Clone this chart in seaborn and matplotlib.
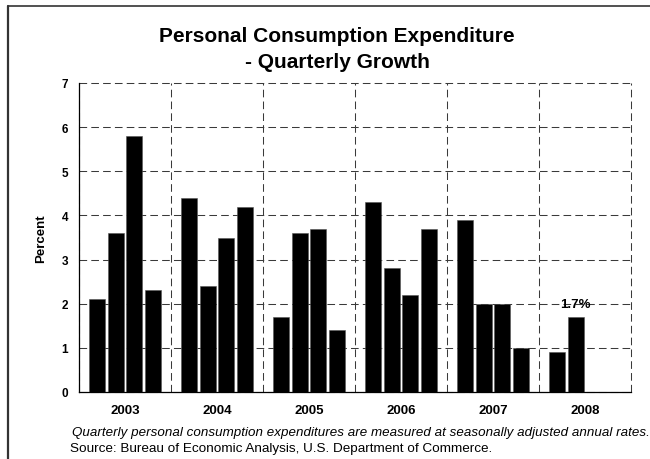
import pandas as pd
import matplotlib
matplotlib.use("Agg")
import matplotlib.pyplot as plt
from matplotlib.lines import Line2D
import seaborn as sns

# chart data
years = ['2003', '2004', '2005', '2006', '2007', '2008']
quarters = ['Q1', 'Q2', 'Q3', 'Q4']
growth_2003 = [2.1, 3.6, 5.8, 2.3]
growth_2004 = [4.4, 2.4, 3.5, 4.2]
growth_2005 = [1.7, 3.6, 3.7, 1.4]
growth_2006 = [4.3, 2.8, 2.2, 3.7]
growth_2007 = [3.9, 2.0, 2.0, 1.0]
growth_2008 = [0.9, 1.7]
y_ticks = [0, 1, 2, 3, 4, 5, 6, 7]
last_label = '1.7%'


def build_frame():
    rows = []
    for year, vals in zip(years, [growth_2003, growth_2004, growth_2005,
                                  growth_2006, growth_2007, growth_2008]):
        for q, v in zip(quarters, vals):
            rows.append([year, q, v])
    return pd.DataFrame(rows, columns=['Year', 'Quarter', 'Percent'])


def draw(df):
    sns.set_style('white')
    plt.rcParams['font.family'] = ['Liberation Sans', 'DejaVu Sans']
    plt.rcParams['lines.scale_dashes'] = False
    plt.rcParams['text.color'] = 'black'
    plt.rcParams['axes.labelcolor'] = 'black'
    plt.rcParams['xtick.color'] = 'black'
    plt.rcParams['ytick.color'] = 'black'

    fig = plt.figure(figsize=(6.5, 4.6), dpi=100)
    ax = fig.add_axes([79 / 650, 1 - 393 / 460, 552 / 650, 309 / 460])

    sns.barplot(data=df, x='Year', y='Percent', hue='Quarter', order=years,
                hue_order=quarters, palette=['black'] * 4, width=0.815,
                gap=0.16, edgecolor='#555555', linewidth=0.4, legend=False,
                ax=ax, zorder=3)

    ax.set_xlim(-0.5, len(years) - 0.5)
    ax.set_ylim(0, 7)
    ax.set_yticks(y_ticks)
    ax.set_yticklabels([str(t) for t in y_ticks], fontsize=8.5, fontweight='bold')
    ax.set_xticks(range(len(years)))
    ax.set_xticklabels(years, fontsize=9.5, fontweight='bold')
    ax.set_xticks([i - 0.5 for i in range(len(years) + 1)], minor=True)
    ax.tick_params(axis='x', which='major', length=0, pad=9)
    ax.tick_params(axis='x', which='minor', length=3.5, width=0.8,
                   direction='out')
    ax.tick_params(axis='y', length=3, width=0.8, direction='out', pad=5)
    ax.set_xlabel('')
    ax.set_ylabel('Percent', fontsize=9.5, fontweight='bold', labelpad=10)

    grid_kw = dict(color='#3a3a3a', linewidth=0.75, linestyle=(0, (5.5, 3)))
    ax.grid(axis='y', which='major', **grid_kw)
    ax.grid(axis='x', which='minor', **grid_kw)
    ax.grid(axis='x', which='major', visible=False)
    ax.set_axisbelow(True)
    for tick in ax.xaxis.get_minor_ticks() + ax.yaxis.get_major_ticks():
        tick.gridline.set_clip_on(False)

    for side in ['top', 'right']:
        ax.spines[side].set_visible(False)
    for side in ['left', 'bottom']:
        ax.spines[side].set_color('black')
        ax.spines[side].set_linewidth(0.9)

    q2 = ax.containers[1]
    labels = [''] * (len(q2) - 1) + [last_label]
    ax.bar_label(q2, labels=labels, padding=5, fontsize=9.5, fontweight='bold')

    fig.text(337 / 650, 1 - 37 / 460, 'Personal Consumption Expenditure',
             ha='center', va='center', fontsize=15, fontweight='bold')
    fig.text(337 / 650, 1 - 63 / 460, '- Quarterly Growth',
             ha='center', va='center', fontsize=15, fontweight='bold')
    fig.text(72 / 650, 1 - 433 / 460,
             'Quarterly personal consumption expenditures are measured at '
             'seasonally adjusted annual rates.',
             ha='left', va='center', fontsize=9.65, style='italic')
    fig.text(70 / 650, 1 - 449 / 460,
             'Source: Bureau of Economic Analysis, U.S. Department of Commerce.',
             ha='left', va='center', fontsize=9.7)

    # frame around the picture (left and top edges)
    fig.add_artist(Line2D([8 / 650, 8 / 650], [0, 1 - 7 / 460],
                          color='#333333', linewidth=1.6,
                          transform=fig.transFigure))
    fig.add_artist(Line2D([8 / 650, 1], [1 - 7 / 460, 1 - 7 / 460],
                          color='#333333', linewidth=1.2,
                          transform=fig.transFigure))

    fig.savefig('out.png', dpi=100)


if __name__ == "__main__":
    df = build_frame()
    draw(df)
